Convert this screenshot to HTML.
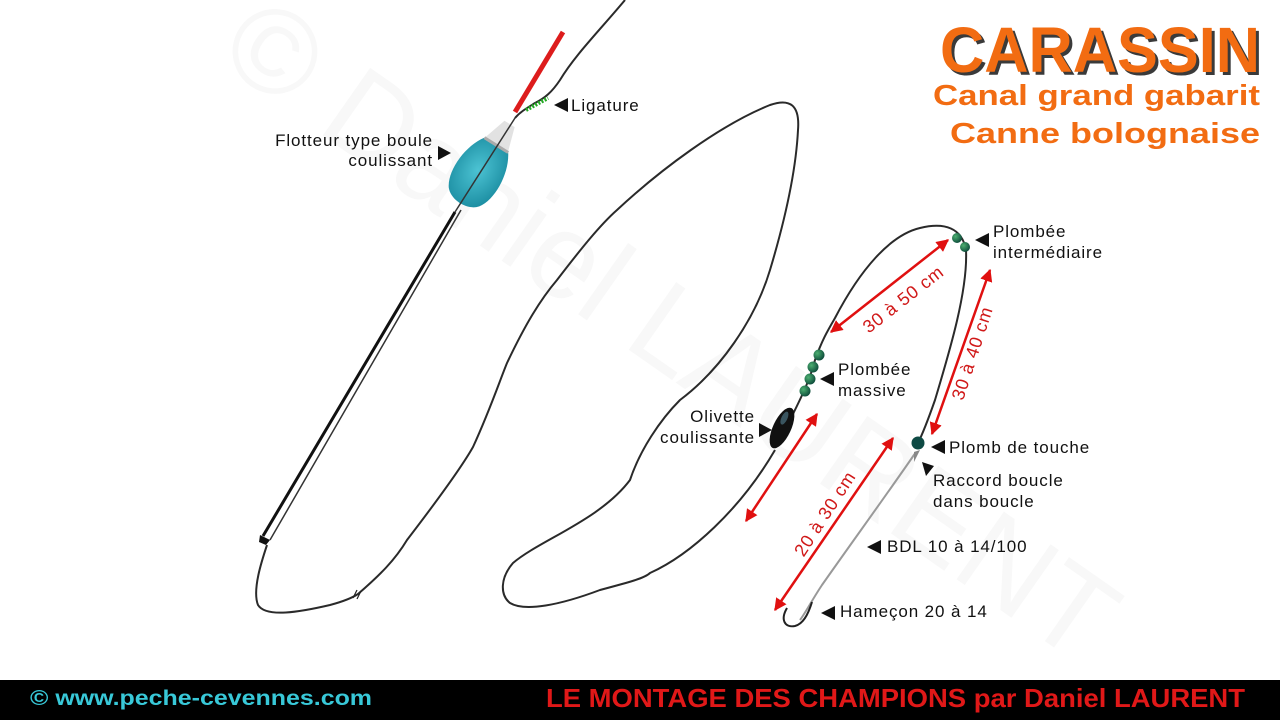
<!DOCTYPE html>
<html><head><meta charset="utf-8"><style>
html,body{margin:0;padding:0;background:#fff}
svg{display:block}
text{font-family:"Liberation Sans",sans-serif}
</style></head><body>
<svg width="1280" height="720" viewBox="0 0 1280 720" xmlns="http://www.w3.org/2000/svg">
<defs>
<radialGradient id="fl" cx="0.45" cy="0.45" r="0.6"><stop offset="0" stop-color="#4cc3d3"/><stop offset="1" stop-color="#1d8fa3"/></radialGradient>
<radialGradient id="bd" cx="0.35" cy="0.35" r="0.7"><stop offset="0" stop-color="#4caf70"/><stop offset="1" stop-color="#0c4a3a"/></radialGradient>
<marker id="ah" viewBox="0 0 10 10" refX="9" refY="5" markerWidth="5" markerHeight="5" orient="auto-start-reverse"><path d="M0,0 L10,5 L0,10 z" fill="#e01010"/></marker>
</defs>
<rect width="1280" height="720" fill="#fff"/>
<text x="0" y="0" font-size="120" fill="#f8f8f8" transform="translate(215,60) rotate(35)">© Daniel LAURENT</text>

<g fill="none" stroke="#2a2a2a" stroke-width="2">
<path d="M625,0 C600,30 575,55 560,80 C552,92 545,98 535,103 C527,108 520,112 515,118"/>
<path d="M267,545 C262,560 252,590 258,605 C266,618 300,612 330,605 C345,601 352,598 358,594 C380,575 395,560 407,540 C430,510 460,470 473,447 C490,410 500,380 507,363 C525,325 540,300 557,280 C580,250 600,225 617,210 C660,170 720,125 770,105 C790,98 800,105 798,130 C796,170 785,220 770,270 C755,320 720,370 680,400 C660,420 640,450 630,480 C600,520 540,540 513,563 C500,578 500,595 510,603 C525,612 560,605 600,590 C630,582 645,578 650,573 C690,555 740,510 775,450"/>
<path d="M790,420 C800,400 810,380 815,360 C822,340 828,330 835,318 C860,270 890,235 920,228 C945,222 962,228 966,250 C968,290 950,350 935,400 C928,420 922,435 918,443"/>
</g>
<path d="M916,452 C890,490 850,545 822,585 C812,600 806,612 800,620" fill="none" stroke="#999" stroke-width="2"/>
<path d="M787,608 C780,620 785,628 795,626 C803,624 808,615 812,602" fill="none" stroke="#222" stroke-width="2"/>
<path d="M455,212 L263,536" stroke="#111" stroke-width="3"/>
<path d="M461,210 L270,540" stroke="#333" stroke-width="1.5"/>
<path d="M260,535 L270,540 L266,545 L259,542z" fill="#111"/>
<path d="M353,598 L357,590 M357,599 L361,591" stroke="#222" stroke-width="1.2"/>
<!-- float -->
<line x1="515" y1="112" x2="563" y2="32" stroke="#dd1c1c" stroke-width="5"/>
<g transform="translate(482,168) rotate(32)">
<path d="M-6,-52 L6,-52 L14,-26 L-14,-26 Z" fill="#e2e2e2"/>
<path d="M-14,-27 C-26,-10 -28,20 -18,34 C-10,44 10,44 18,34 C28,20 26,-10 14,-27 Z" fill="url(#fl)"/>
<line x1="-14" y1="-27" x2="14" y2="-27" stroke="#aaa" stroke-width="3"/>
</g>
<line x1="515" y1="118" x2="455" y2="212" stroke="#333" stroke-width="1.5"/>
<path d="M526,110 L548,98" stroke="#22aa22" stroke-width="4" stroke-dasharray="2,1.5"/>
<g fill="url(#bd)">
<circle cx="957" cy="238" r="5"/><circle cx="965" cy="247" r="5"/>
<circle cx="819" cy="355" r="5.5"/><circle cx="813" cy="367" r="5.5"/><circle cx="810" cy="379" r="5.5"/><circle cx="805" cy="391" r="5.5"/>
</g>
<circle cx="918" cy="443" r="6.5" fill="#0e4a44"/>
<path d="M914,452 L920,450 L914,462z" fill="#888"/>
<g transform="translate(782,428) rotate(25)"><ellipse rx="9" ry="22" fill="#111"/><ellipse cx="-2" cy="-10" rx="3" ry="7" fill="#3a5560"/></g>
<g stroke="#e01010" stroke-width="2.5" marker-start="url(#ah)" marker-end="url(#ah)">
<line x1="831" y1="332" x2="948" y2="240"/>
<line x1="990" y1="270" x2="932" y2="434"/>
<line x1="817" y1="414" x2="746" y2="521"/>
<line x1="893" y1="438" x2="775" y2="610"/>
</g>
<g fill="#d01818" font-size="18" letter-spacing="0.8">
<text transform="translate(907,304) rotate(-38)" text-anchor="middle">30 à 50 cm</text>
<text transform="translate(978,355) rotate(-72)" text-anchor="middle">30 à 40 cm</text>
<text transform="translate(830,517) rotate(-57)" text-anchor="middle">20 à 30 cm</text>
</g>
<g fill="#111" font-size="17" letter-spacing="0.9">
<text x="571" y="111">Ligature</text>
<path d="M554,105 L568,98 L568,112z"/>
<text x="433" y="146" text-anchor="end">Flotteur type boule</text>
<text x="433" y="166" text-anchor="end">coulissant</text>
<path d="M438,146 L451,153 L438,160z"/>
<text x="993" y="237">Plombée</text>
<text x="993" y="258">intermédiaire</text>
<path d="M975,240 L989,233 L989,247z"/>
<text x="838" y="375">Plombée</text>
<text x="838" y="396">massive</text>
<path d="M820,379 L834,372 L834,386z"/>
<text x="755" y="422" text-anchor="end">Olivette</text>
<text x="755" y="443" text-anchor="end">coulissante</text>
<path d="M759,423 L772,430 L759,437z"/>
<text x="949" y="453">Plomb de touche</text>
<path d="M931,447 L945,440 L945,454z"/>
<text x="933" y="486">Raccord boucle</text>
<text x="933" y="507">dans boucle</text>
<path d="M922,462 L934,466 L926,476z"/>
<text x="887" y="552">BDL 10 à 14/100</text>
<path d="M867,547 L881,540 L881,554z"/>
<text x="840" y="617">Hameçon 20 à 14</text>
<path d="M821,613 L835,606 L835,620z"/>
</g>
<g font-weight="bold">
<text x="943" y="75" font-size="64" fill="#3a3a3a" textLength="320" lengthAdjust="spacingAndGlyphs">CARASSIN</text>
<text x="940" y="72" font-size="64" fill="#f26c12" textLength="320" lengthAdjust="spacingAndGlyphs">CARASSIN</text>
<text x="933" y="105" font-size="29" fill="#f26c12" textLength="327" lengthAdjust="spacingAndGlyphs">Canal grand gabarit</text>
<text x="950" y="143" font-size="29" fill="#f26c12" textLength="310" lengthAdjust="spacingAndGlyphs">Canne bolognaise</text>
</g>
<rect x="0" y="680" width="1280" height="40" fill="#000"/>
<text x="30" y="705" font-size="21" font-weight="bold" fill="#38c8d8" textLength="342" lengthAdjust="spacingAndGlyphs">© www.peche-cevennes.com</text>
<text x="546" y="707" font-size="26" font-weight="bold" fill="#e01818" textLength="699" lengthAdjust="spacingAndGlyphs">LE MONTAGE DES CHAMPIONS par Daniel LAURENT</text>
</svg>
</body></html>
